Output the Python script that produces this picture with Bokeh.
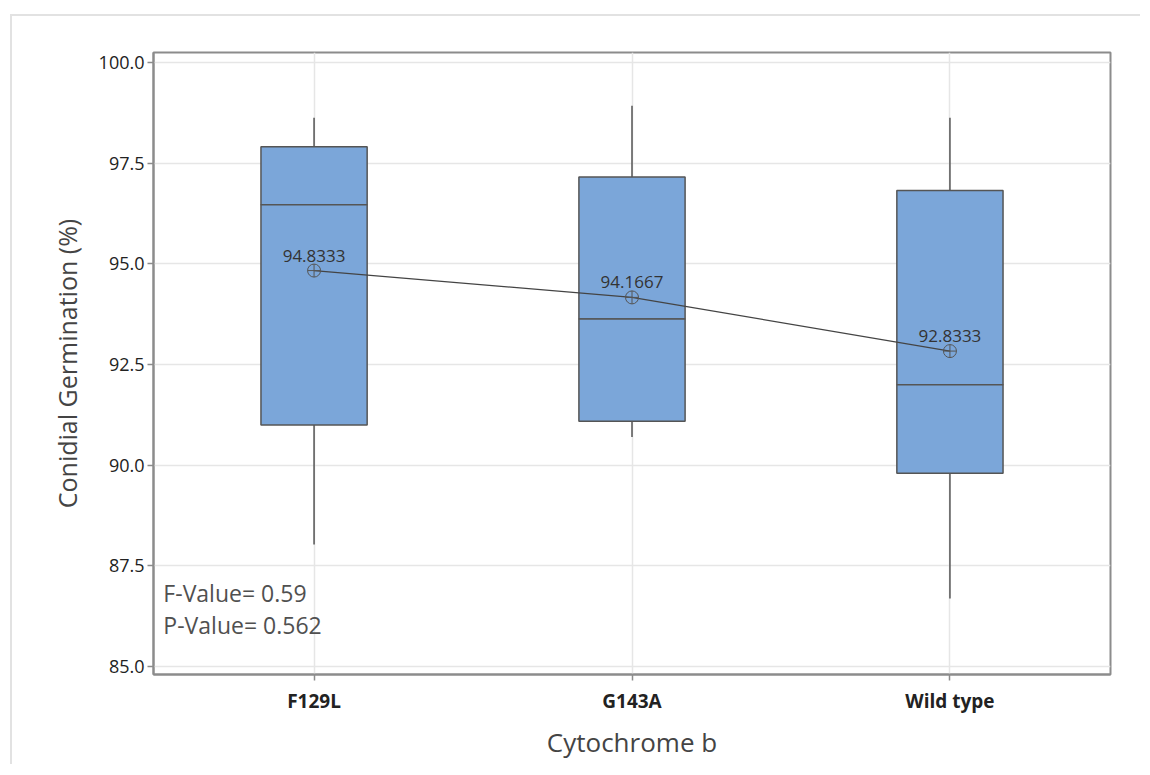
from bokeh.plotting import figure
from bokeh.models import FixedTicker, PrintfTickFormatter, Range1d, Label, ColumnDataSource
from bokeh.core.properties import value
from bokeh.embed import file_html
from bokeh.resources import INLINE

groups = ["F129L", "G143A", "Wild type"]
positions = [1, 2, 3]
whisker_low = [88.03, 90.70, 86.69]
q1 = [91.00, 91.09, 89.80]
median = [96.47, 93.63, 92.00]
q3 = [97.91, 97.16, 96.82]
whisker_high = [98.63, 98.93, 98.63]
means = [94.8333, 94.1667, 92.8333]
mean_labels = ["94.8333", "94.1667", "92.8333"]
y_ticks = [85.0, 87.5, 90.0, 92.5, 95.0, 97.5, 100.0]
stats_text = ["F-Value= 0.59", "P-Value= 0.562"]

FONT = "Open Sans"
BOX_FILL = "#7BA6D9"
EDGE = "#555555"

src = ColumnDataSource(dict(x=positions, low=whisker_low, q1=q1, med=median,
                            q3=q3, high=whisker_high, mean=means, lab=mean_labels))

p = figure(width=1130, height=750, output_backend="svg", toolbar_location=None,
           x_range=Range1d(0.495, 3.505), y_range=Range1d(84.8, 100.25),
           min_border_left=141, min_border_right=32, min_border_top=36, min_border_bottom=92)
p.styles = {"margin-left": "10px", "margin-top": "14px",
            "border-left": "2px solid #e2e2e2", "border-top": "2px solid #e2e2e2"}

p.background_fill_color = "white"
p.border_fill_color = "white"
p.outline_line_color = "#8c8c8c"
p.outline_line_width = 2

# grids
p.xgrid.grid_line_color = "#e6e6e6"
p.ygrid.grid_line_color = "#e6e6e6"
p.xgrid.grid_line_width = 1.5
p.ygrid.grid_line_width = 1.5

# whiskers
p.segment(x0="x", y0="q3", x1="x", y1="high", source=src, line_color=EDGE, line_width=1.5)
p.segment(x0="x", y0="low", x1="x", y1="q1", source=src, line_color=EDGE, line_width=1.5)
# boxes (upper and lower halves share median edge)
p.vbar(x="x", width=0.334, bottom="med", top="q3", source=src,
       fill_color=BOX_FILL, line_color=EDGE, line_width=1.5)
p.vbar(x="x", width=0.334, bottom="q1", top="med", source=src,
       fill_color=BOX_FILL, line_color=EDGE, line_width=1.5)

# mean connect line and markers
p.line(x="x", y="mean", source=src, line_color="#444444", line_width=1.2)
p.scatter(x="x", y="mean", source=src, marker="circle_cross", size=13,
          fill_alpha=0, line_color="#555555", line_width=1)
p.text(x="x", y="mean", text="lab", source=src, text_align="center",
       text_baseline="bottom", y_offset=-9, text_font=value(FONT),
       text_font_size="17px", text_color="#333333")

# stats annotation
p.add_layout(Label(x=0.526, y=86.82, text=stats_text[0], text_font=FONT,
                   text_font_size="23px", text_color="#505050", text_baseline="middle"))
p.add_layout(Label(x=0.526, y=86.03, text=stats_text[1], text_font=FONT,
                   text_font_size="23px", text_color="#505050", text_baseline="middle"))

# axes
p.xaxis.ticker = FixedTicker(ticks=positions)
p.xaxis.major_label_overrides = {pos: g for pos, g in zip(positions, groups)}
p.yaxis.ticker = FixedTicker(ticks=y_ticks)
p.yaxis.formatter = PrintfTickFormatter(format="%.1f")

for ax in (p.xaxis[0], p.yaxis[0]):
    ax.axis_line_color = "#8c8c8c"
    ax.axis_line_width = 2
    ax.major_tick_line_color = "#8c8c8c"
    ax.major_tick_line_width = 1.5
    ax.major_tick_out = 6
    ax.major_tick_in = 0
    ax.minor_tick_line_color = None
    ax.major_label_text_font = FONT
    ax.major_label_text_color = "#222222"
    ax.axis_label_text_font = FONT
    ax.axis_label_text_font_style = "normal"
    ax.axis_label_text_color = "#444444"

p.yaxis.major_label_text_font_size = "18px"
p.xaxis.major_label_text_font_size = "19px"
p.xaxis.major_label_text_font_style = "bold"
p.xaxis.major_label_standoff = 7
p.yaxis.major_label_standoff = 3
p.xaxis.axis_label = "Cytochrome b"
p.yaxis.axis_label = "Conidial Germination (%)"
p.xaxis.axis_label_text_font_size = "26px"
p.yaxis.axis_label_text_font_size = "25px"
p.xaxis.axis_label_standoff = 7
p.yaxis.axis_label_standoff = 12

open("out.html", "w").write(file_html(p, INLINE))
